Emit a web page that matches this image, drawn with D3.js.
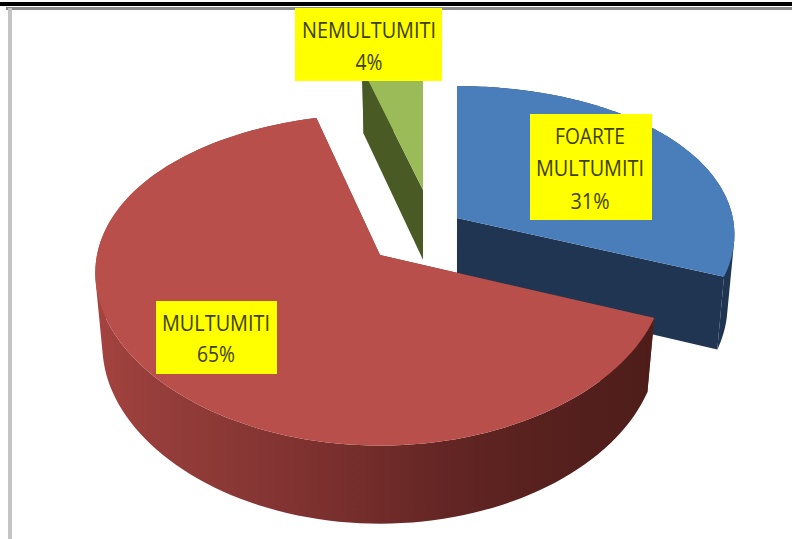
<!DOCTYPE html>
<html>
<head>
<meta charset="utf-8">
<script src="https://cdn.jsdelivr.net/npm/d3@7"></script>
<style>
  html, body { margin: 0; padding: 0; background: #fff; }
  svg { display: block; }
</style>
</head>
<body>
<div id="my_dataviz"></div>
<script>
// data
const categories = [`FOARTE MULTUMITI`, `MULTUMITI`, `NEMULTUMITI`];
const values = [31, 65, 4];
const labelLines = [[`FOARTE`, `MULTUMITI`], [`MULTUMITI`], [`NEMULTUMITI`]];

// Constant
const width = 792;
const height = 539;
const cx = 380;
const cy = 255;
const rx = 283;
const ry = 162;
const wallDepth = 72;
const perspectiveX = 0.11;
const perspectiveY = 0.15;
const taper = 0.025;
const fontFamily = `"Open Sans", Arial, sans-serif`;
const textColor = `#3f4000`;

// explode offset of each slice, in disc units
const offsets = [[0.272, 0.236], [0, 0], [0.152, 0.427]];
const topColors = [`#4a7ebb`, `#b94f4b`, `#9bbb59`];
const sideColors = [`#1f3552`, `url(#redWall)`, `#4a5a25`];
const boxes = [
    {x: 530, y: 114, w: 122, h: 106, firstLine: 136, lineGap: 32.5, cx: 590},
    {x: 156, y: 301, w: 121, h: 73, firstLine: 323, lineGap: 31, cx: 216},
    {x: 295, y: 8, w: 147, h: 73, firstLine: 30, lineGap: 32, cx: 369}
];
const textWidths = {FOARTE: 70, MULTUMITI: 108, NEMULTUMITI: 134, '31%': 39, '65%': 38, '4%': 27};

// red wall shading goes by screen x
const redStops = [
    [0, `#a5433f`],
    [0.1, `#963e3b`],
    [0.37, `#7f3230`],
    [0.64, `#622523`],
    [0.83, `#55201d`],
    [1, `#4e1d1a`]
];

// Y is depth into the picture, Z is how far down the wall
const project = (oX, X, Y, Z) => {
    const fx = 1 / (1 + perspectiveX * Y);
    const fy = 1 / (1 + perspectiveY * Y);
    return [
        cx + rx * oX + rx * X * fx * (1 - taper * Z),
        cy - ry * Y * fy + wallDepth * Z * Math.sqrt(fy)
    ];
};

const line = d3.line();

const svg = d3.select(`#my_dataviz`)
    .append(`svg`)
    .attr(`width`, width)
    .attr(`height`, height);

const grad = svg.append(`defs`).append(`linearGradient`)
    .attr(`id`, `redWall`)
    .attr(`gradientUnits`, `userSpaceOnUse`)
    .attr(`x1`, 96).attr(`x2`, 655)
    .attr(`y1`, 0).attr(`y2`, 0);
redStops.forEach(d => grad.append(`stop`).attr(`offset`, d[0]).attr(`stop-color`, d[1]));

// page furniture: picture frame and the rule above it
svg.append(`rect`).attr(`x`, 0).attr(`y`, 2).attr(`width`, width).attr(`height`, 4).attr(`fill`, `#000`);
svg.append(`rect`).attr(`x`, 6).attr(`y`, 7).attr(`width`, width - 6).attr(`height`, 3).attr(`fill`, `#8c8c8c`);
svg.append(`rect`).attr(`x`, 8).attr(`y`, 8).attr(`width`, 4).attr(`height`, height - 8).attr(`fill`, `#c4c4c4`);

const pie = d3.pie().sort(null).value(d => d).startAngle(0).endAngle(2 * Math.PI);
const slices = pie(values);

const pointAt = (i, a, Z) => project(
    offsets[i][0],
    Math.sin(a),
    offsets[i][1] + Math.cos(a),
    Z
);
const apexAt = (i, Z) => project(offsets[i][0], 0, offsets[i][1], Z);

const drawSlice = (i) => {
    const s = slices[i];
    const g = svg.append(`g`).attr(`class`, `slice`);
    const angles = d3.range(0, 121).map(k => s.startAngle + (s.endAngle - s.startAngle) * k / 120);

    // cut faces
    [s.startAngle, s.endAngle].forEach(a => {
        g.append(`path`)
            .attr(`d`, line([apexAt(i, 0), pointAt(i, a, 0), pointAt(i, a, 1), apexAt(i, 1)]) + `Z`)
            .attr(`fill`, i === 1 ? `#7b2f2d` : sideColors[i]);
    });

    // outer wall: all the quads go in one path, wound the same way, so there are no seams
    const wall = d3.pairs(angles).map(([a0, a1]) => {
        const quad = [pointAt(i, a0, 0), pointAt(i, a1, 0), pointAt(i, a1, 1), pointAt(i, a0, 1)];
        if (d3.polygonArea(quad) < 0) quad.reverse();
        return line(quad) + `Z`;
    }).join(``);
    g.append(`path`)
        .attr(`d`, wall)
        .attr(`fill`, sideColors[i]);

    // top face
    g.append(`path`)
        .attr(`d`, line([apexAt(i, 0), ...angles.map(a => pointAt(i, a, 0))]) + `Z`)
        .attr(`fill`, topColors[i]);
};

// back to front
[2, 0, 1].forEach(drawSlice);

// labels
slices.forEach((s, i) => {
    const b = boxes[i];
    const lines = [...labelLines[i], `${values[i]}%`];
    svg.append(`rect`)
        .attr(`x`, b.x).attr(`y`, b.y)
        .attr(`width`, b.w).attr(`height`, b.h)
        .attr(`fill`, `#ffff00`);
    lines.forEach((t, k) => {
        svg.append(`text`)
            .attr(`x`, b.cx)
            .attr(`y`, b.firstLine + k * b.lineGap)
            .attr(`dy`, `0.36em`)
            .attr(`text-anchor`, `middle`)
            .style(`font-family`, fontFamily)
            .style(`font-size`, `21px`)
            .attr(`fill`, textColor)
            .attr(`textLength`, textWidths[t])
            .attr(`lengthAdjust`, `spacingAndGlyphs`)
            .text(t);
    });
});
</script>
</body>
</html>
